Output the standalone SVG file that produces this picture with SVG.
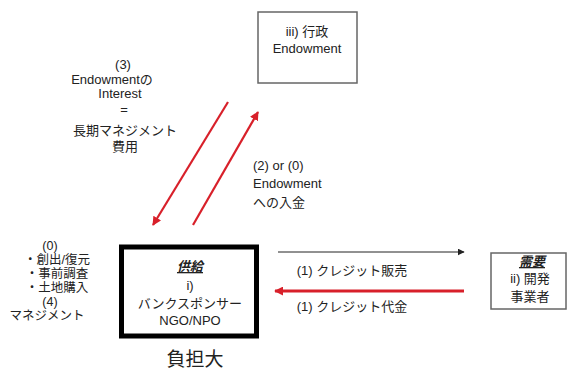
<svg xmlns="http://www.w3.org/2000/svg" width="568" height="370" viewBox="0 0 568 370">
<defs>
<style>
text{font-family:"Liberation Sans","Noto Sans CJK JP",sans-serif;font-size:13px;fill:#222;}
.c{text-anchor:middle;}
.h{font-weight:bold;font-style:italic;text-decoration:underline;}
.n{font-size:12.5px;}
.red{stroke:#d8202a;fill:none;}
.box{fill:#fff;stroke:#666;stroke-width:1.5;}
</style>
<marker id="ar" viewBox="0 0 10 10" refX="9" refY="5" markerWidth="9" markerHeight="9" markerUnits="userSpaceOnUse" orient="auto"><path d="M0,0 L10,5 L0,10 z" fill="#d8202a"/></marker>
<marker id="ab" viewBox="0 0 10 10" refX="9" refY="5" markerWidth="7" markerHeight="7" markerUnits="userSpaceOnUse" orient="auto"><path d="M0,0 L10,5 L0,10 z" fill="#222"/></marker>
</defs>
<rect width="568" height="370" fill="#fff"/>
<g id="connectors">
<line class="red" x1="228" y1="102" x2="153" y2="225" stroke-width="2.2" marker-end="url(#ar)"/>
<line class="red" x1="193" y1="225" x2="258" y2="112" stroke-width="2.2" marker-end="url(#ar)"/>
<line x1="278" y1="252" x2="464" y2="252" stroke="#222" stroke-width="1" marker-end="url(#ab)"/>
<line class="red" x1="464" y1="291" x2="275" y2="291" stroke-width="3" marker-end="url(#ar)"/>
<text x="352" y="275" class="c">(1) クレジット販売</text>
<text x="352" y="311" class="c">(1) クレジット代金</text>
<text x="123" y="69" class="c">(3)</text>
<text x="112" y="84" class="c">Endowmentの</text>
<text x="120" y="98" class="c">Interest</text>
<text x="124" y="114" class="c">=</text>
<text x="125" y="135" class="c">長期マネジメント</text>
<text x="125" y="151" class="c">費用</text>
<text x="253" y="170">(2) or (0)</text>
<text x="253" y="188">Endowment</text>
<text x="253" y="207">への入金</text>
</g>
<g id="node-gyosei">
<rect class="box" x="258" y="12" width="99" height="71"/>
<text x="307" y="36" class="c">iii) 行政</text>
<text x="307" y="53" class="c">Endowment</text>
</g>
<g id="node-sponsor">
<rect x="121.5" y="247" width="135" height="89" fill="#fff" stroke="#000" stroke-width="5"/>
<text x="190" y="271" class="c h">供給</text>
<text x="190" y="290" class="c">i)</text>
<text x="190" y="308" class="c">バンクスポンサー</text>
<text x="190" y="325" class="c">NGO/NPO</text>
</g>
<g id="node-developer">
<rect class="box" x="491" y="253" width="75" height="56"/>
<text x="532" y="266" class="c h">需要</text>
<text x="530" y="283" class="c">ii) 開発</text>
<text x="530" y="301" class="c">事業者</text>
</g>
<g id="left-notes">
<text x="50" y="250" class="c n">(0)</text>
<text x="57" y="264" class="c n">・創出/復元</text>
<text x="57" y="278" class="c n">・事前調査</text>
<text x="57" y="292" class="c n">・土地購入</text>
<text x="50" y="306" class="c n">(4)</text>
<text x="47" y="320" class="c n">マネジメント</text>
</g>
<g id="burden">
<text x="195" y="366" class="c" style="font-size:19px">負担大</text>
</g>
</svg>
